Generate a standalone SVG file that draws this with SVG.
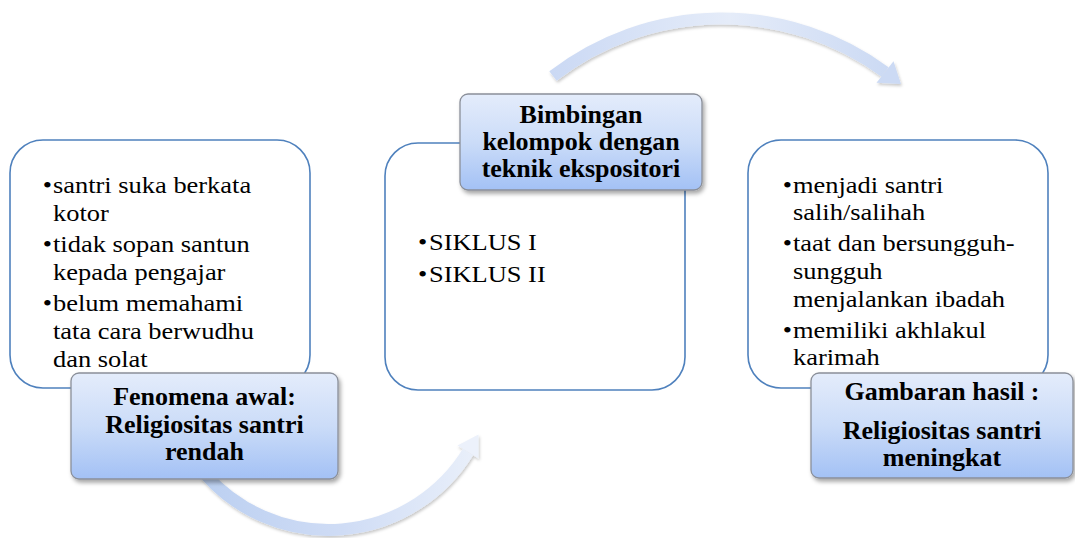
<svg xmlns="http://www.w3.org/2000/svg" width="1075" height="538" viewBox="0 0 1075 538">
<style>
.box{fill:#ffffff;stroke:#4f81bd;stroke-width:1.6}
.lbl{stroke:#8a8f99;stroke-width:1.3;fill:url(#lg)}
.body{font-family:"Liberation Serif","Times New Roman",serif;font-size:23px;fill:#000}
.head{font-family:"Liberation Serif","Times New Roman",serif;font-size:26px;font-weight:bold;fill:#000;text-anchor:middle}
</style>
<defs>
<linearGradient id="lg" x1="0" y1="0" x2="0" y2="1">
<stop offset="0" stop-color="#e4ecfb"/>
<stop offset="0.5" stop-color="#cbdcf8"/>
<stop offset="1" stop-color="#a3c1f5"/>
</linearGradient>
<linearGradient id="ga" gradientUnits="userSpaceOnUse" x1="553" y1="0" x2="905" y2="0">
<stop offset="0" stop-color="#cbd9f4"/>
<stop offset="0.5" stop-color="#e5ecf9"/>
<stop offset="1" stop-color="#c9d8f3"/>
</linearGradient>
<linearGradient id="gb" gradientUnits="userSpaceOnUse" x1="205" y1="0" x2="480" y2="0">
<stop offset="0" stop-color="#bcd0f1"/>
<stop offset="0.5" stop-color="#cfdcf5"/>
<stop offset="1" stop-color="#eaf0fa"/>
</linearGradient>
<filter id="sh" x="-10%" y="-10%" width="125%" height="130%">
<feDropShadow dx="2" dy="3" stdDeviation="2.2" flood-color="#000" flood-opacity="0.35"/>
</filter>
<filter id="ash" x="-10%" y="-20%" width="125%" height="150%">
<feDropShadow dx="1" dy="2" stdDeviation="1.8" flood-color="#000" flood-opacity="0.22"/>
</filter>
</defs>

<g id="connectors">
<g filter="url(#ash)">
<path d="M553,76 A276,276 0 0 1 885,72" fill="none" stroke="url(#ga)" stroke-width="12"/>
<polygon points="901,84 876.5,82.8 893.5,61.2" fill="#ccdaf4"/>
</g>
<g filter="url(#ash)">
<path d="M205,474 A164,164 0 0 0 468,452" fill="none" stroke="url(#gb)" stroke-width="12"/>
<polygon points="478.5,434.5 478.5,458.5 457.5,445.5" fill="#ecf1fb"/>
</g>
</g>

<g id="node-awal">
<rect class="box" x="10" y="140" width="300" height="248" rx="33"/>
<g class="body" transform="matrix(1.15,0,0,1,53,0)">
<text x="-9" y="193">•</text><text x="0" y="193">santri suka berkata</text>
<text x="0" y="221">kotor</text>
<text x="-9" y="252">•</text><text x="0" y="252">tidak sopan santun</text>
<text x="0" y="280">kepada pengajar</text>
<text x="-9" y="311">•</text><text x="0" y="311">belum memahami</text>
<text x="0" y="339">tata cara berwudhu</text>
<text x="0" y="367">dan solat</text>
</g>
<rect class="lbl" x="71" y="373" width="267" height="106" rx="8" filter="url(#sh)"/>
<text class="head" x="204.5" y="405">Fenomena awal:</text>
<text class="head" x="204.5" y="433">Religiositas santri</text>
<text class="head" x="204.5" y="460">rendah</text>
</g>

<g id="node-bimbingan">
<rect class="box" x="385" y="143" width="300" height="247" rx="33"/>
<g class="body" transform="matrix(1.15,0,0,1,429,0)">
<text x="-9.5" y="250">•</text><text x="0" y="250">SIKLUS I</text>
<text x="-9.5" y="282">•</text><text x="0" y="282">SIKLUS II</text>
</g>
<rect class="lbl" x="460" y="94" width="242" height="96" rx="8" filter="url(#sh)"/>
<text class="head" x="581" y="123">Bimbingan</text>
<text class="head" x="581" y="150">kelompok dengan</text>
<text class="head" x="581" y="177">teknik ekspositori</text>
</g>

<g id="node-hasil">
<rect class="box" x="748" y="140" width="300" height="248" rx="33"/>
<g class="body" transform="matrix(1.15,0,0,1,793,0)">
<text x="-9" y="193">•</text><text x="0" y="193">menjadi santri</text>
<text x="0" y="220">salih/salihah</text>
<text x="-9" y="251">•</text><text x="0" y="251">taat dan bersungguh-</text>
<text x="0" y="279">sungguh</text>
<text x="0" y="307">menjalankan ibadah</text>
<text x="-9" y="338">•</text><text x="0" y="338">memiliki akhlakul</text>
<text x="0" y="365">karimah</text>
</g>
<rect class="lbl" x="811" y="373" width="262" height="105" rx="8" filter="url(#sh)"/>
<text class="head" x="942" y="400">Gambaran hasil :</text>
<text class="head" x="942" y="439">Religiositas santri</text>
<text class="head" x="942" y="466">meningkat</text>
</g>
</svg>
